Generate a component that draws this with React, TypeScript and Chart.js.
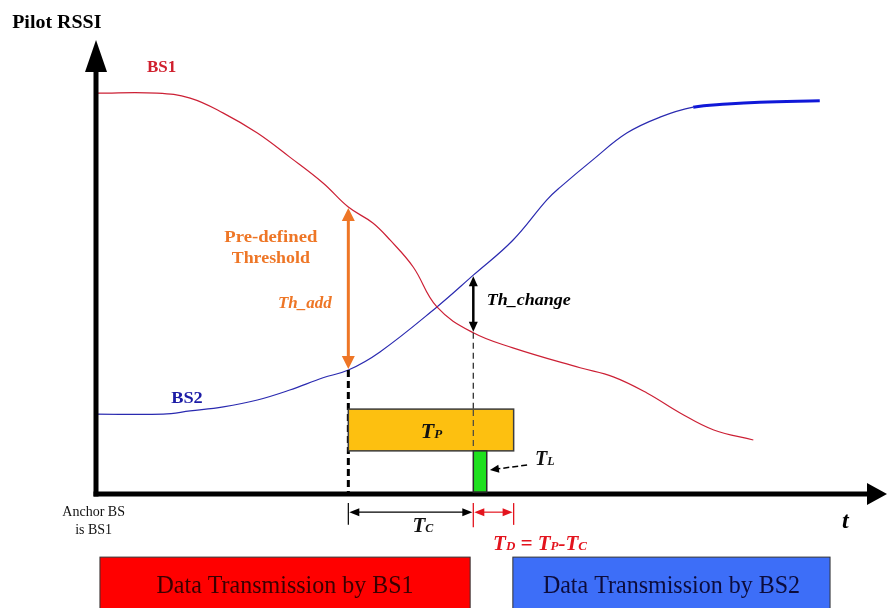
import { useEffect, useRef } from "react";
import { Chart, registerables } from "chart.js";

Chart.register(...registerables);

// ---- Data (time in % of span, RSSI in % of axis height) ----
const bs1Time = [0, 7.7, 11.9, 16.1, 20.4, 24.5, 28.7, 31.9, 35.0, 37.2, 40.1, 43.1, 47.7, 52.7, 61.2, 65.4, 69.7, 73.9, 78.1, 83.1];
const bs1Rssi = [88.3, 88.3, 87.2, 83.9, 79.5, 74.2, 68.5, 63.2, 59.7, 55.9, 50.0, 41.2, 35.5, 32.2, 27.8, 25.8, 22.2, 17.8, 14.1, 11.9];
const bs2Time = [0, 8.5, 11.9, 16.1, 20.4, 24.5, 28.7, 31.9, 35.9, 43.1, 47.7, 52.7, 57.0, 58.7, 62.8, 67.1, 71.3, 75.5, 79.8, 83.9, 91.5];
const bs2Rssi = [17.6, 17.6, 18.3, 19.2, 20.7, 22.9, 25.6, 27.3, 31.3, 41.2, 48.2, 55.9, 64.8, 67.6, 73.6, 79.5, 83.0, 85.2, 85.9, 86.3, 86.6];

// key instants on the time axis
const thAddTime = 31.9;        // BS2 crosses Th_add
const thChangeTime = 47.7;     // Th_change reached
const tpEndTime = 52.8;        // end of T_P
const tlEndTime = 49.4;        // end of T_L
// key RSSI levels
const thAddLevels = [63.2, 27.3];     // BS1, BS2 at thAddTime
const thChangeLevels = [48.2, 35.5];  // BS2, BS1 at thChangeTime
const tpLevels = [18.7, 9.5];         // T_P bar top / bottom
// transmission periods
const bs1Tx = [0.5, 47.3];
const bs2Tx = [52.7, 92.8];
const txLevels = [-13.9, -25.6];

const SERIF = '"Liberation Serif", "Times New Roman", serif';

type TxtOpt = { bold?: boolean; italic?: boolean; color: string; align?: "left" | "center" | "right"; sx?: number };

function fontStr(size: number, bold?: boolean, italic?: boolean) {
  return `${italic ? "italic " : ""}${bold ? "bold " : ""}${size}px ${SERIF}`;
}

function txt(ctx: CanvasRenderingContext2D, s: string, x: number, y: number, size: number, o: TxtOpt) {
  ctx.save();
  ctx.font = fontStr(size, o.bold, o.italic);
  ctx.fillStyle = o.color;
  ctx.textBaseline = "alphabetic";
  ctx.textAlign = "left";
  const sx = o.sx ?? 1;
  const w = ctx.measureText(s).width * sx;
  const x0 = o.align === "center" ? x - w / 2 : o.align === "right" ? x - w : x;
  ctx.translate(x0, y);
  ctx.scale(sx, 1);
  ctx.fillText(s, 0, 0);
  ctx.restore();
  return w;
}

// rich text: pieces [text, size]
function rich(ctx: CanvasRenderingContext2D, pieces: [string, number][], x: number, y: number, color: string, align: "left" | "center" = "left") {
  ctx.save();
  let total = 0;
  for (const [s, sz] of pieces) {
    ctx.font = fontStr(sz, true, true);
    total += ctx.measureText(s).width;
  }
  let cx = align === "center" ? x - total / 2 : x;
  ctx.fillStyle = color;
  ctx.textBaseline = "alphabetic";
  for (const [s, sz] of pieces) {
    ctx.font = fontStr(sz, true, true);
    ctx.fillText(s, cx, y);
    cx += ctx.measureText(s).width;
  }
  ctx.restore();
}

function head(ctx: CanvasRenderingContext2D, x: number, y: number, ang: number, len: number, wid: number, color: string) {
  ctx.save();
  ctx.translate(x, y);
  ctx.rotate(ang);
  ctx.fillStyle = color;
  ctx.beginPath();
  ctx.moveTo(0, 0);
  ctx.lineTo(-len, -wid / 2);
  ctx.lineTo(-len, wid / 2);
  ctx.closePath();
  ctx.fill();
  ctx.restore();
}

function line(ctx: CanvasRenderingContext2D, x1: number, y1: number, x2: number, y2: number, color: string, w: number, dash: number[] = []) {
  ctx.save();
  ctx.strokeStyle = color;
  ctx.lineWidth = w;
  ctx.setLineDash(dash);
  ctx.beginPath();
  ctx.moveTo(x1, y1);
  ctx.lineTo(x2, y2);
  ctx.stroke();
  ctx.restore();
}

function rect(ctx: CanvasRenderingContext2D, x1: number, y1: number, x2: number, y2: number, fill: string, stroke: string, w: number) {
  ctx.save();
  ctx.fillStyle = fill;
  ctx.fillRect(x1, y1, x2 - x1, y2 - y1);
  ctx.strokeStyle = stroke;
  ctx.lineWidth = w;
  ctx.strokeRect(x1, y1, x2 - x1, y2 - y1);
  ctx.restore();
}

const diagramPlugin = {
  id: "diagram",
  afterDatasetsDraw(chart: any) {
    const ctx: CanvasRenderingContext2D = chart.ctx;
    const X = (v: number) => chart.scales.x.getPixelForValue(v);
    const Y = (v: number) => chart.scales.y.getPixelForValue(v);
    const ORANGE = "#EE7626";

    // axes
    const ax0 = X(0), ay0 = Y(0);
    line(ctx, ax0, ay0 + 2.5, ax0, Y(100) + 30, "#000", 5);
    head(ctx, ax0, Y(100), -Math.PI / 2, 32, 22, "#000");
    line(ctx, ax0 - 2.5, ay0, X(100) - 18, ay0, "#000", 5);
    head(ctx, X(100), ay0, 0, 20, 22, "#000");

    // dashed guide lines
    line(ctx, X(thAddTime), Y(thAddLevels[1]), X(thAddTime), ay0, "#000", 3, [7, 4]);
    line(ctx, X(thChangeTime), Y(thChangeLevels[1]), X(thChangeTime), Y(tpLevels[1]), "#333", 1.3, [6, 4]);

    // Th_add arrow
    const tx = X(thAddTime);
    const t1 = Y(thAddLevels[0]) + 1, t2 = Y(thAddLevels[1]) - 1;
    line(ctx, tx, t1 + 10, tx, t2 - 10, ORANGE, 3);
    head(ctx, tx, t1, -Math.PI / 2, 13, 13, ORANGE);
    head(ctx, tx, t2, Math.PI / 2, 13, 13, ORANGE);

    // Th_change arrow
    const cx = X(thChangeTime);
    const c1 = Y(thChangeLevels[0]) + 1, c2 = Y(thChangeLevels[1]) - 1;
    line(ctx, cx, c1 + 8, cx, c2 - 8, "#000", 2.5);
    head(ctx, cx, c1, -Math.PI / 2, 10, 9, "#000");
    head(ctx, cx, c2, Math.PI / 2, 10, 9, "#000");

    // T_P bar
    rect(ctx, X(thAddTime), Y(tpLevels[0]), X(tpEndTime), Y(tpLevels[1]), "#FDC010", "#3c3c3c", 1.5);
    line(ctx, X(thChangeTime), Y(tpLevels[0]) + 1, X(thChangeTime), Y(tpLevels[1]), "#444", 1.2, [6, 4]);
    // T_L bar
    rect(ctx, X(thChangeTime), Y(tpLevels[1]), X(tlEndTime), ay0 - 2, "#1EE01E", "#2c2c2c", 1.5);

    // labels
    txt(ctx, "Pilot RSSI", X(-10.6), Y(102.6), 19, { bold: true, color: "#000", sx: 1.05 });
    txt(ctx, "BS1", X(8.3), Y(93.0), 17, { bold: true, color: "#D0202E", align: "center" });
    txt(ctx, "BS2", X(11.5), Y(20.0), 17, { bold: true, color: "#1C1CA6", align: "center", sx: 1.08 });
    txt(ctx, "Pre-defined", X(22.1), Y(55.5), 17, { bold: true, color: ORANGE, align: "center", sx: 1.1 });
    txt(ctx, "Threshold", X(22.1), Y(50.9), 17, { bold: true, color: ORANGE, align: "center", sx: 1.05 });
    txt(ctx, "Th_add", X(26.4), Y(41.0), 17, { bold: true, italic: true, color: ORANGE, align: "center" });
    txt(ctx, "Th_change", X(49.4), Y(41.6), 17, { bold: true, italic: true, color: "#000", sx: 1.06 });

    rich(ctx, [["T", 22], ["P", 13]], X(42.4), Y(12.3), "#111", "center");
    rich(ctx, [["T", 20], ["L", 12]], X(55.5), Y(6.4), "#111");

    // T_L pointer
    const p1x = X(54.5), p1y = Y(6.4), p2x = X(49.8), p2y = Y(5.3);
    const ang = Math.atan2(p2y - p1y, p2x - p1x);
    line(ctx, p1x, p1y, p2x - 8 * Math.cos(ang), p2y - 8 * Math.sin(ang), "#000", 1.5, [6, 3]);
    head(ctx, p2x, p2y, ang, 9, 8, "#000");

    // T_C and T_D spans below axis
    const ay = Y(-4.0), tk1 = Y(-2.0), tk2 = Y(-6.8);
    line(ctx, X(thAddTime), tk1, X(thAddTime), tk2, "#000", 1.2);
    line(ctx, X(thAddTime) + 6, ay, X(thChangeTime) - 7, ay, "#000", 1.2);
    head(ctx, X(thAddTime) + 1, ay, Math.PI, 10, 8, "#000");
    head(ctx, X(thChangeTime) - 1, ay, 0, 10, 8, "#000");
    const RED = "#E3141E";
    line(ctx, X(thChangeTime), tk1, X(thChangeTime), Y(-7.3), RED, 1.3);
    line(ctx, X(tpEndTime), tk1, X(tpEndTime), tk2, RED, 1.3);
    line(ctx, X(thChangeTime) + 6, ay, X(tpEndTime) - 6, ay, RED, 1.2);
    head(ctx, X(thChangeTime) + 1, ay, Math.PI, 10, 8, RED);
    head(ctx, X(tpEndTime) - 1, ay, 0, 10, 8, RED);

    rich(ctx, [["T", 21], ["C", 12]], X(40.0), Y(-8.4), "#111");
    rich(ctx, [["T", 21], ["D", 13], [" = ", 21], ["T", 21], ["P", 13], ["-", 21], ["T", 21], ["C", 13]], X(50.2), Y(-12.3), RED);

    txt(ctx, "t", X(94.3), Y(-7.5), 24, { bold: true, italic: true, color: "#000" });
    txt(ctx, "Anchor BS", X(-0.3), Y(-4.8), 14, { color: "#111", align: "center" });
    txt(ctx, "is BS1", X(-0.3), Y(-8.8), 14, { color: "#111", align: "center" });

    // transmission bars
    rect(ctx, X(bs1Tx[0]), Y(txLevels[0]), X(bs1Tx[1]), Y(txLevels[1]), "#FF0000", "#333", 1);
    rect(ctx, X(bs2Tx[0]), Y(txLevels[0]), X(bs2Tx[1]), Y(txLevels[1]), "#3D6EF8", "#333", 1);
    txt(ctx, "Data Transmission by BS1", (X(bs1Tx[0]) + X(bs1Tx[1])) / 2, Y(-21.8), 25, { color: "#3A0000", align: "center", sx: 0.96 });
    txt(ctx, "Data Transmission by BS2", (X(bs2Tx[0]) + X(bs2Tx[1])) / 2, Y(-21.8), 25, { color: "#0C0C3C", align: "center", sx: 0.96 });
  },
};

export default function App() {
  const ref = useRef<HTMLCanvasElement | null>(null);
  useEffect(() => {
    if (!ref.current) return;
    const chart = new Chart(ref.current, {
      type: "scatter",
      data: {
        datasets: [
          {
            label: "BS1",
            data: bs1Time.map((x, i) => ({ x, y: bs1Rssi[i] })),
            showLine: true,
            borderColor: "#CC2035",
            borderWidth: 1.2,
            pointRadius: 0,
            tension: 0.4,
            clip: false as any,
          },
          {
            label: "BS2",
            data: bs2Time.map((x, i) => ({ x, y: bs2Rssi[i] })),
            showLine: true,
            borderColor: "#2A2AB0",
            borderWidth: 1.2,
            pointRadius: 0,
            tension: 0.4,
            clip: false as any,
            segment: {
              borderWidth: (c: any) => (c.p0.parsed.x >= 75 ? 3 : 1.2),
              borderColor: (c: any) => (c.p0.parsed.x >= 75 ? "#1018D8" : "#2A2AB0"),
            },
          },
        ],
      },
      options: {
        responsive: false,
        animation: false,
        events: [],
        layout: { padding: { left: 96, right: 1, top: 40, bottom: 114 } },
        scales: {
          x: { type: "linear", min: 0, max: 100, display: false },
          y: { type: "linear", min: 0, max: 100, display: false },
        },
        plugins: { legend: { display: false }, tooltip: { enabled: false }, title: { display: false } },
      },
      plugins: [diagramPlugin],
    });
    return () => chart.destroy();
  }, []);
  return (
    <div style={{ position: "absolute", left: 0, top: 0, width: 888, height: 608, background: "#fff" }}>
      <canvas ref={ref} width={888} height={608} style={{ display: "block" }} />
    </div>
  );
}
